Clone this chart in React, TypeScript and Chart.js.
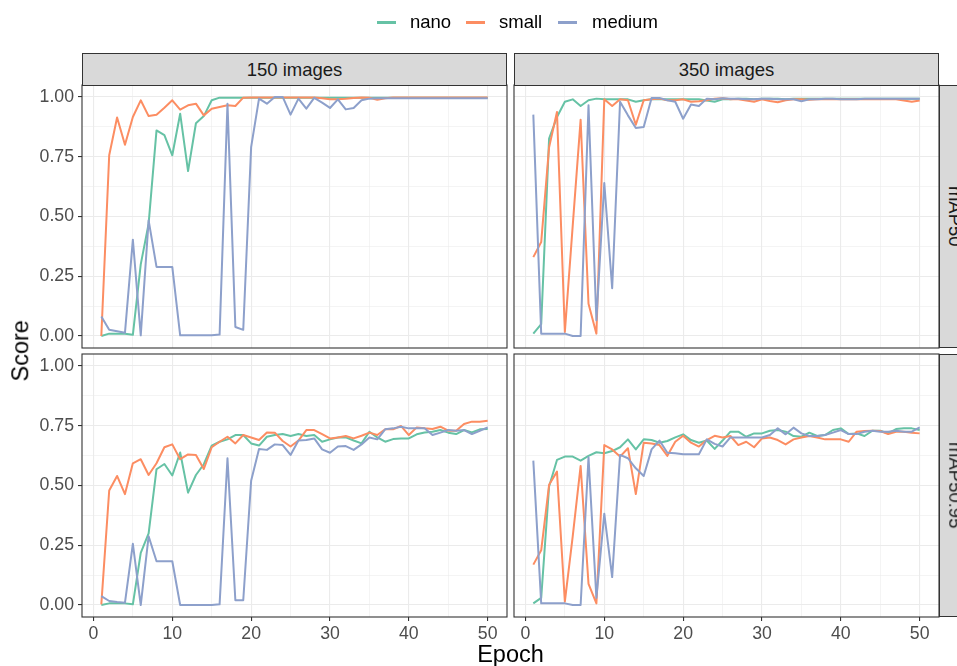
import React, { useEffect, useRef } from "react";
import { Chart, registerables } from "chart.js";

Chart.register(...registerables);

// ---------------- DATA ----------------
const EPOCHS = Array.from({ length: 50 }, (_, i) => i + 1);
const MODELS = ["nano", "small", "medium"];
const COLUMNS = ["150 images", "350 images"];
const ROWS = ["mAP50", "mAP50:95"];
const X_GRID = [0, 5, 10, 15, 20, 25, 30, 35, 40, 45, 50];
const Y_GRID = [0, 0.125, 0.25, 0.375, 0.5, 0.625, 0.75, 0.875, 1];

// mAP50, 150 images
const map50_150_nano = [
  0.0, 0.01, 0.01, 0.01, 0.005, 0.3, 0.47, 0.86, 0.84, 0.756,
  0.93, 0.69, 0.89, 0.92, 0.986, 0.997, 0.997, 0.997, 0.997, 0.997,
  0.997, 0.997, 0.997, 0.997, 0.997, 0.997, 0.997, 0.997, 0.997, 0.997,
  0.997, 0.997, 0.997, 0.997, 0.997, 0.997, 0.997, 0.997, 0.997, 0.997,
  0.997, 0.997, 0.997, 0.997, 0.997, 0.997, 0.997, 0.997, 0.997, 0.997,
];
const map50_150_small = [
  0.0, 0.756, 0.914, 0.8, 0.916, 0.986, 0.92, 0.926, 0.955, 0.986,
  0.947, 0.965, 0.972, 0.923, 0.951, 0.958, 0.965, 0.962, 0.997, 0.998,
  0.998, 0.998, 0.998, 0.998, 0.998, 0.998, 0.998, 0.998, 0.995, 0.99,
  0.99, 0.992, 0.996, 0.998, 0.997, 0.988, 0.995, 0.998, 0.998, 0.998,
  0.998, 0.998, 0.998, 0.998, 0.998, 0.998, 0.998, 0.998, 0.998, 0.998,
];
const map50_150_medium = [
  0.082, 0.026, 0.02, 0.014, 0.403, 0.003, 0.484, 0.289, 0.289, 0.289,
  0.003, 0.003, 0.003, 0.003, 0.003, 0.006, 0.972, 0.038, 0.026, 0.79,
  0.993, 0.972, 1.0, 1.0, 0.926, 0.993, 0.951, 0.996, 0.976, 0.954,
  0.99, 0.948, 0.954, 0.986, 0.993, 0.995, 0.995, 0.995, 0.995, 0.995,
  0.995, 0.995, 0.995, 0.995, 0.995, 0.995, 0.995, 0.995, 0.995, 0.995,
];

// mAP50, 350 images
const map50_350_nano = [
  0.01, 0.05, 0.826, 0.916, 0.98, 0.99, 0.962, 0.986, 0.993, 0.99,
  0.99, 0.99, 0.99, 0.98, 0.986, 0.99, 0.99, 0.99, 0.99, 0.99,
  0.99, 0.99, 0.985, 0.98, 0.99, 0.99, 0.993, 0.993, 0.99, 0.993,
  0.993, 0.993, 0.99, 0.993, 0.993, 0.993, 0.993, 0.993, 0.993, 0.993,
  0.993, 0.993, 0.993, 0.993, 0.993, 0.993, 0.993, 0.993, 0.993, 0.993,
];
const map50_350_small = [
  0.33, 0.393, 0.79, 0.937, 0.017, 0.463, 0.905, 0.135, 0.01, 0.99,
  0.962, 0.99, 0.986, 0.884, 0.986, 0.99, 0.993, 0.986, 0.986, 0.99,
  0.98, 0.982, 0.986, 0.993, 0.995, 0.99, 0.99, 0.985, 0.98, 0.99,
  0.983, 0.978, 0.986, 0.99, 0.99, 0.988, 0.99, 0.99, 0.99, 0.99,
  0.99, 0.99, 0.99, 0.99, 0.99, 0.99, 0.99, 0.985, 0.98, 0.985,
];
const map50_350_medium = [
  0.926, 0.01, 0.01, 0.01, 0.01, 0.0, 0.0, 0.965, 0.066, 0.64,
  0.2, 0.98, 0.923, 0.87, 0.874, 0.996, 0.996, 0.986, 0.98, 0.909,
  0.968, 0.962, 0.993, 0.99, 0.995, 0.992, 0.992, 0.99, 0.99, 0.992,
  0.992, 0.99, 0.99, 0.99, 0.982, 0.99, 0.99, 0.992, 0.992, 0.99,
  0.99, 0.99, 0.992, 0.992, 0.992, 0.992, 0.992, 0.992, 0.992, 0.992,
];

// mAP50:95, 150 images
const map5095_150_nano = [
  0.0, 0.007, 0.007, 0.007, 0.003, 0.218, 0.3, 0.568, 0.59, 0.542,
  0.638, 0.47, 0.544, 0.589, 0.667, 0.683, 0.693, 0.711, 0.711, 0.676,
  0.667, 0.704, 0.711, 0.715, 0.707, 0.715, 0.707, 0.711, 0.683, 0.693,
  0.701, 0.701, 0.688, 0.676, 0.725, 0.701, 0.683, 0.694, 0.697, 0.697,
  0.714, 0.722, 0.725, 0.732, 0.721, 0.715, 0.732, 0.722, 0.735, 0.736,
];
const map5095_150_small = [
  0.003, 0.479, 0.54, 0.464, 0.593, 0.61, 0.544, 0.593, 0.66, 0.672,
  0.61, 0.63, 0.628, 0.569, 0.66, 0.683, 0.704, 0.676, 0.711, 0.701,
  0.69, 0.722, 0.721, 0.686, 0.663, 0.688, 0.732, 0.732, 0.715, 0.697,
  0.701, 0.707, 0.697, 0.708, 0.721, 0.711, 0.735, 0.735, 0.749, 0.711,
  0.743, 0.739, 0.736, 0.746, 0.729, 0.729, 0.757, 0.767, 0.767, 0.771,
];
const map5095_150_medium = [
  0.0375, 0.017, 0.0125, 0.01, 0.256, 0.0, 0.288, 0.183, 0.183, 0.183,
  0.0, 0.0, 0.0, 0.0, 0.0, 0.003, 0.614, 0.02, 0.02, 0.52,
  0.653, 0.649, 0.672, 0.669, 0.628, 0.688, 0.69, 0.697, 0.651, 0.637,
  0.663, 0.665, 0.649, 0.672, 0.701, 0.693, 0.735, 0.739, 0.746, 0.739,
  0.739, 0.739, 0.711, 0.721, 0.732, 0.729, 0.732, 0.715, 0.729, 0.743,
];

// mAP50:95, 350 images
const map5095_350_nano = [
  0.007, 0.03, 0.496, 0.607, 0.621, 0.621, 0.604, 0.624, 0.639, 0.635,
  0.644, 0.66, 0.693, 0.651, 0.693, 0.69, 0.679, 0.686, 0.701, 0.714,
  0.69, 0.679, 0.688, 0.653, 0.688, 0.725, 0.725, 0.704, 0.718, 0.718,
  0.729, 0.732, 0.725, 0.707, 0.704, 0.721, 0.707, 0.711, 0.732, 0.739,
  0.715, 0.718, 0.707, 0.729, 0.729, 0.718, 0.736, 0.739, 0.739, 0.732,
];
const map5095_350_small = [
  0.169, 0.229, 0.503, 0.558, 0.014, 0.288, 0.582, 0.089, 0.007, 0.669,
  0.651, 0.621, 0.656, 0.464, 0.679, 0.676, 0.669, 0.624, 0.683, 0.708,
  0.679, 0.663, 0.69, 0.708, 0.701, 0.707, 0.669, 0.683, 0.66, 0.697,
  0.701, 0.69, 0.672, 0.693, 0.701, 0.707, 0.701, 0.693, 0.693, 0.693,
  0.683, 0.725, 0.728, 0.729, 0.728, 0.715, 0.725, 0.725, 0.721, 0.718,
];
const map5095_350_medium = [
  0.604, 0.007, 0.007, 0.007, 0.007, 0.0, 0.0, 0.618, 0.03, 0.382,
  0.117, 0.628, 0.614, 0.572, 0.54, 0.651, 0.688, 0.637, 0.635, 0.631,
  0.631, 0.631, 0.693, 0.674, 0.663, 0.701, 0.701, 0.701, 0.701, 0.701,
  0.711, 0.739, 0.714, 0.742, 0.718, 0.707, 0.707, 0.711, 0.721, 0.732,
  0.715, 0.715, 0.725, 0.729, 0.725, 0.725, 0.729, 0.725, 0.725, 0.743,
];

// ---------------- STYLE / LAYOUT ----------------
const W = 957;
const H = 666;
const FONT = '"Liberation Sans", Arimo, Arial, sans-serif';
const COLORS: Record<string, string> = {
  nano: "#66C2A5",
  small: "#FC8D62",
  medium: "#8DA0CB",
};
const X_MIN = -1.45;
const X_MAX = 52.45;
const Y_MIN = -0.05;
const Y_MAX = 1.05;

type Panel = {
  l: number; t: number; r: number; b: number;
  showX: boolean; showY: boolean;
  series: Record<string, number[]>;
};

const COL_X = [
  { l: 82, r: 507 },
  { l: 514, r: 939 },
];
const ROW_Y = [
  { t: 85, b: 348 },
  { t: 354, b: 617 },
];

const PANELS: Panel[] = [
  { ...COL_X[0], ...ROW_Y[0], showX: false, showY: true,
    series: { nano: map50_150_nano, small: map50_150_small, medium: map50_150_medium } },
  { ...COL_X[1], ...ROW_Y[0], showX: false, showY: false,
    series: { nano: map50_350_nano, small: map50_350_small, medium: map50_350_medium } },
  { ...COL_X[0], ...ROW_Y[1], showX: true, showY: true,
    series: { nano: map5095_150_nano, small: map5095_150_small, medium: map5095_150_medium } },
  { ...COL_X[1], ...ROW_Y[1], showX: true, showY: false,
    series: { nano: map5095_350_nano, small: map5095_350_small, medium: map5095_350_medium } },
];

const framePlugin = {
  id: "panelFrame",
  afterDraw(chart: any) {
    const { ctx, chartArea: a } = chart;
    ctx.save();
    ctx.strokeStyle = "#333333";
    ctx.lineWidth = 1.1;
    ctx.strokeRect(a.left, a.top, a.right - a.left, a.bottom - a.top);
    ctx.restore();
  },
};

const isMajorX = (v: number) => Math.abs(v % 10) < 1e-9;
const isMajorY = (v: number) => Math.abs(v * 4 - Math.round(v * 4)) < 1e-9;

function makeChart(canvas: HTMLCanvasElement, p: Panel) {
  const order = ["medium", "small", "nano"]; // index 0 drawn on top
  const yAxisW = p.showY ? p.l : 0;
  const xAxisH = p.showX ? H - p.b : 0;
  return new Chart(canvas, {
    type: "line",
    data: {
      datasets: order.map((m) => ({
        label: m,
        data: EPOCHS.map((e, i) => ({ x: e, y: p.series[m][i] })),
        borderColor: COLORS[m],
        backgroundColor: COLORS[m],
        borderWidth: 2,
        pointRadius: 0,
        tension: 0,
        fill: false,
        borderJoinStyle: "round",
      })),
    },
    options: {
      responsive: false,
      animation: false,
      devicePixelRatio: 1,
      events: [],
      layout: {
        padding: {
          left: p.l - yAxisW,
          top: p.t,
          right: W - p.r,
          bottom: H - p.b - xAxisH,
        },
      },
      plugins: {
        legend: { display: false },
        tooltip: { enabled: false },
      },
      scales: {
        x: {
          type: "linear",
          min: X_MIN,
          max: X_MAX,
          afterBuildTicks: (s: any) => {
            s.ticks = X_GRID.map((v) => ({ value: v }));
          },
          afterFit: (s: any) => {
            s.height = xAxisH;
          },
          border: { display: false },
          grid: {
            color: "#EBEBEB",
            lineWidth: (c: any) => (isMajorX(c.tick.value) ? 1.1 : 0.55),
            drawTicks: p.showX,
            tickLength: 4,
            tickWidth: 1.1,
            tickColor: (c: any) => (isMajorX(c.tick.value) ? "#333333" : "rgba(0,0,0,0)"),
          },
          ticks: {
            display: p.showX,
            autoSkip: false,
            maxRotation: 0,
            padding: 2,
            color: "#4D4D4D",
            font: { family: FONT, size: 17.7 },
            callback: (v: any) => (isMajorX(Number(v)) ? String(v) : ""),
          },
        },
        y: {
          type: "linear",
          min: Y_MIN,
          max: Y_MAX,
          afterBuildTicks: (s: any) => {
            s.ticks = Y_GRID.map((v) => ({ value: v }));
          },
          afterFit: (s: any) => {
            s.width = yAxisW;
          },
          border: { display: false },
          grid: {
            color: "#EBEBEB",
            lineWidth: (c: any) => (isMajorY(c.tick.value) ? 1.1 : 0.55),
            drawTicks: p.showY,
            tickLength: 4,
            tickWidth: 1.1,
            tickColor: (c: any) => (isMajorY(c.tick.value) ? "#333333" : "rgba(0,0,0,0)"),
          },
          ticks: {
            display: p.showY,
            autoSkip: false,
            padding: 4,
            color: "#4D4D4D",
            font: { family: FONT, size: 17.7 },
            callback: (v: any) => (isMajorY(Number(v)) ? Number(v).toFixed(2) : ""),
          },
        },
      },
    },
    plugins: [framePlugin],
  } as any);
}

const LEGEND_ITEMS = [
  { name: "nano", keyX: 377, textX: 410 },
  { name: "small", keyX: 466, textX: 499 },
  { name: "medium", keyX: 558, textX: 592 },
];

export default function App() {
  const r0 = useRef<HTMLCanvasElement>(null);
  const r1 = useRef<HTMLCanvasElement>(null);
  const r2 = useRef<HTMLCanvasElement>(null);
  const r3 = useRef<HTMLCanvasElement>(null);
  const refs = [r0, r1, r2, r3];

  useEffect(() => {
    const charts = PANELS.map((p, i) => makeChart(refs[i].current as HTMLCanvasElement, p));
    return () => charts.forEach((c) => c.destroy());
  }, []);

  const stripFont = 18.5;
  const titleFont = 23.5;

  return (
    <div
      style={{
        position: "absolute",
        left: 0,
        top: 0,
        width: W,
        height: H,
        overflow: "hidden",
        background: "#ffffff",
        fontFamily: FONT,
      }}
    >
      {PANELS.map((_, i) => (
        <canvas
          key={i}
          ref={refs[i]}
          width={W}
          height={H}
          style={{ position: "absolute", left: 0, top: 0, width: W, height: H }}
        />
      ))}

      {/* legend */}
      {LEGEND_ITEMS.map((it) => (
        <React.Fragment key={it.name}>
          <div
            style={{
              position: "absolute",
              left: it.keyX,
              top: 21,
              width: 19,
              height: 2.5,
              background: COLORS[it.name],
            }}
          />
          <div
            style={{
              position: "absolute",
              left: it.textX,
              top: 13,
              fontSize: stripFont,
              lineHeight: stripFont + "px",
              color: "#000000",
              whiteSpace: "nowrap",
            }}
          >
            {it.name}
          </div>
        </React.Fragment>
      ))}

      {/* top strips */}
      {COLUMNS.map((c, i) => (
        <div
          key={c}
          style={{
            position: "absolute",
            left: COL_X[i].l,
            top: 53,
            width: COL_X[i].r - COL_X[i].l,
            height: ROW_Y[0].t - 53 + 1,
            boxSizing: "border-box",
            background: "#D9D9D9",
            border: "1.1px solid #333333",
            display: "flex",
            alignItems: "center",
            justifyContent: "center",
            fontSize: stripFont,
            color: "#1A1A1A",
            whiteSpace: "nowrap",
          }}
        >
          {c}
        </div>
      ))}

      {/* right strips */}
      {ROWS.map((r, i) => (
        <React.Fragment key={r}>
          <div
            style={{
              position: "absolute",
              left: COL_X[1].r,
              top: ROW_Y[i].t,
              width: 33,
              height: ROW_Y[i].b - ROW_Y[i].t,
              boxSizing: "border-box",
              background: "#D9D9D9",
              border: "1.1px solid #333333",
            }}
          />
          <div
            style={{
              position: "absolute",
              left: 955 - 100,
              top: (ROW_Y[i].t + ROW_Y[i].b) / 2 - stripFont / 2,
              width: 200,
              height: stripFont,
              lineHeight: stripFont + "px",
              fontSize: stripFont,
              textAlign: "center",
              color: "#1A1A1A",
              transform: "rotate(90deg)",
              transformOrigin: "50% 50%",
              whiteSpace: "nowrap",
            }}
          >
            {r}
          </div>
        </React.Fragment>
      ))}

      {/* axis titles */}
      <div
        style={{
          position: "absolute",
          left: (COL_X[0].l + COL_X[1].r) / 2 - 100,
          top: 643,
          width: 200,
          textAlign: "center",
          fontSize: titleFont,
          lineHeight: titleFont + "px",
          color: "#000000",
        }}
      >
        Epoch
      </div>
      <div
        style={{
          position: "absolute",
          left: 21 - 100,
          top: (ROW_Y[0].t + ROW_Y[1].b) / 2 - titleFont / 2,
          width: 200,
          height: titleFont,
          textAlign: "center",
          fontSize: titleFont,
          lineHeight: titleFont + "px",
          color: "#000000",
          transform: "rotate(-90deg)",
          transformOrigin: "50% 50%",
          whiteSpace: "nowrap",
        }}
      >
        Score
      </div>
    </div>
  );
}
